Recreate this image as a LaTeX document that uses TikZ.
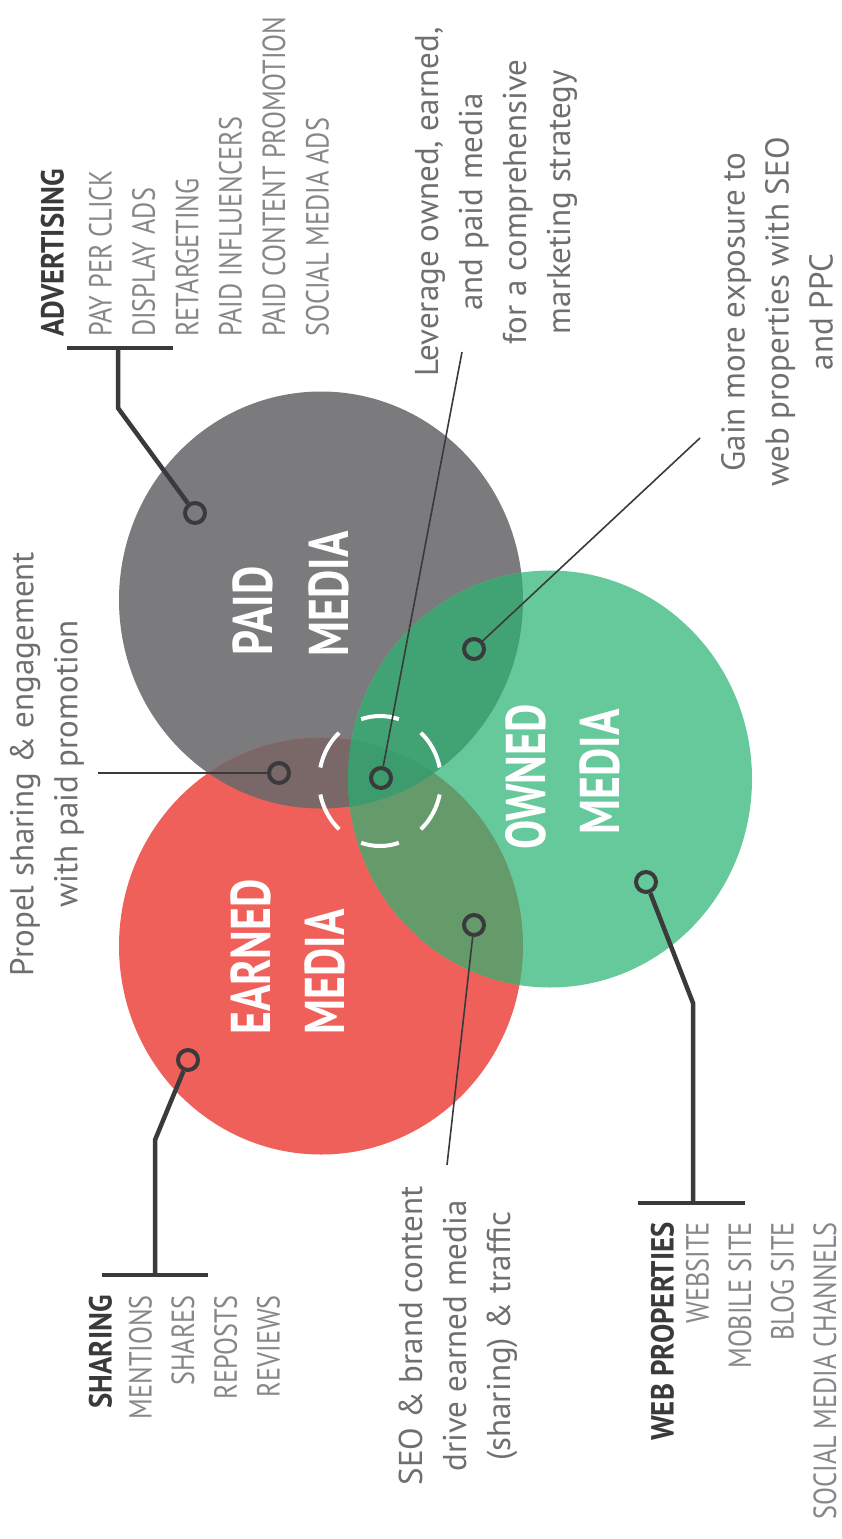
\documentclass[tikz,border=0pt]{standalone}
\usepackage{fontspec}
\setmainfont{PT Sans}
\newfontfamily\condfont[FakeStretch=0.82]{PT Sans}
\newfontfamily\headfont[FakeStretch=0.9]{PT Sans}
\newfontfamily\bigcondfont[FakeStretch=0.78]{PT Sans}

\definecolor{paidgray}{HTML}{7B7B7D}
\definecolor{earnedred}{HTML}{F0605A}
\definecolor{ownedgreen}{HTML}{66C99B}
\definecolor{pegray}{HTML}{7A6767}
\definecolor{pogreen}{HTML}{41A374}
\definecolor{eogreen}{HTML}{659A6B}
\definecolor{allgreen}{HTML}{3D9C6D}
\definecolor{inkdark}{HTML}{3A3A3C}
\definecolor{notegray}{HTML}{6F6F71}
\definecolor{itemgray}{HTML}{87878A}

\tikzset{
  dot/.style={circle,draw=inkdark,line width=4pt,minimum size=20pt,inner sep=0pt},
  thinlink/.style={draw=inkdark,line width=1.6pt},
  thicklink/.style={draw=inkdark,line width=4.5pt},
  note/.style={rotate=90,align=center,inner sep=0pt,text=notegray,
    font=\fontsize{33}{44}\selectfont},
  heading/.style={rotate=90,inner sep=0pt,text height=23pt,text depth=0pt,
    text=inkdark,font=\headfont\bfseries\fontsize{32}{40}\selectfont},
  item/.style={rotate=90,inner sep=0pt,text height=23pt,text depth=0pt,
    text=itemgray,font=\condfont\fontsize{32}{40}\selectfont},
  medialabel/.style={rotate=90,inner sep=0pt,text height=40pt,text depth=0pt,
    text=white,font=\bigcondfont\bfseries\fontsize{56}{60}\selectfont}
}

\begin{document}
\begin{tikzpicture}[x=1pt,y=-1pt]
    \useasboundingbox (0,0) rectangle (842,1539);
    \def\rx{202}
    \def\ry{208.5}
    \coordinate (paidC) at (321,600);
    \coordinate (earnedC) at (321,946);
    \coordinate (ownedC) at (550,779);
    %% the three media
    \fill[paidgray] (paidC) ellipse [x radius=\rx, y radius=\ry];
    \fill[earnedred] (earnedC) ellipse [x radius=\rx, y radius=\ry];
    \fill[ownedgreen] (ownedC) ellipse [x radius=\rx, y radius=\ry];
    %% overlaps
    \begin{scope}
        \clip (earnedC) ellipse [x radius=\rx, y radius=\ry];
        \fill[eogreen] (ownedC) ellipse [x radius=\rx, y radius=\ry];
    \end{scope}
    \begin{scope}
        \clip (paidC) ellipse [x radius=\rx, y radius=\ry];
        \fill[pegray] (earnedC) ellipse [x radius=\rx, y radius=\ry];
        \fill[pogreen] (ownedC) ellipse [x radius=\rx, y radius=\ry];
        \clip (earnedC) ellipse [x radius=\rx, y radius=\ry];
        \fill[allgreen] (ownedC) ellipse [x radius=\rx, y radius=\ry];
    \end{scope}
    %% dashed ring in the middle
    \coordinate (ringC) at (380,781);
    \foreach \a in {90,30,...,-210}
        \draw[white,line width=4pt] (ringC) ++(\a-18:61 and 65)
            arc [start angle=\a-18, end angle=\a+18, x radius=61, y radius=65];
    %% circle titles
    \node[medialabel] (paidA) at (252,611) {PAID};
    \node[medialabel] (paidB) at (328,594) {MEDIA};
    \node[medialabel] (earnedA) at (250,957) {EARNED};
    \node[medialabel] (earnedB) at (324,972) {MEDIA};
    \node[medialabel] (ownedA) at (525,777) {OWNED};
    \node[medialabel] (ownedB) at (599,772) {MEDIA};
    %% dots
    \node[dot] (paidDot) at (195,513) {};
    \node[dot] (earnedDot) at (188,1060) {};
    \node[dot] (ownedDot) at (646,882) {};
    \node[dot] (peDot) at (279,773) {};
    \node[dot] (poDot) at (474,649) {};
    \node[dot] (eoDot) at (474,925) {};
    \node[dot] (coreDot) at (381,778) {};
    %% notes
    \node[note] (leverageNote) at (496,202)
        {Leverage owned, earned,\\ and paid media\\ for a comprehensive\\ marketing strategy};
    \node[note] (gainNote) at (777,312)
        {Gain more exposure to\\ web properties with SEO\\ and PPC};
    \node[note] (propelNote) at (47,764)
        {Propel sharing \& engagement\\ with paid promotion};
    \node[note] (seoNote) at (458,1336)
        {SEO \& brand content\\ drive earned media\\ (sharing) \& traffic};
    \coordinate (leverageEnd) at (462,352);
    \coordinate (gainEnd) at (700,438);
    \coordinate (propelEnd) at (98,773);
    \coordinate (seoEnd) at (447,1165);
    \draw[thinlink] (coreDot) -- (leverageEnd);
    \draw[thinlink] (poDot) -- (gainEnd);
    \draw[thinlink] (peDot) -- (propelEnd);
    \draw[thinlink] (eoDot) -- (seoEnd);
    %% Advertising
    \node[heading,anchor=west] (advHead) at (52,337) {ADVERTISING};
    \foreach \t [count=\i] in {PAY PER CLICK,DISPLAY ADS,RETARGETING,
        PAID INFLUENCERS,PAID CONTENT PROMOTION,SOCIAL MEDIA ADS}
        \node[item,anchor=west] (adv\i) at (100+43.4*\i-43.4,337) {\t};
    \coordinate (advBarA) at (67,348);
    \coordinate (advBarB) at (173,348);
    \coordinate (advStem) at (118,348);
    \coordinate (advBend) at (118,408);
    \draw[thicklink] (advBarA) -- (advBarB);
    \draw[thicklink,line join=round] (advStem) -- (advBend) -- (paidDot);
    %% Sharing
    \node[heading,anchor=east] (shareHead) at (100,1295) {SHARING};
    \foreach \t [count=\i] in {MENTIONS,SHARES,REPOSTS,REVIEWS}
        \node[item,anchor=east] (share\i) at (140+42.7*\i-42.7,1295) {\t};
    \coordinate (shareBarA) at (102,1275);
    \coordinate (shareBarB) at (208,1275);
    \coordinate (shareStem) at (155,1275);
    \coordinate (shareBend) at (155,1140);
    \draw[thicklink] (shareBarA) -- (shareBarB);
    \draw[thicklink,line join=round] (shareStem) -- (shareBend) -- (earnedDot);
    %% Web properties
    \node[heading,anchor=east] (webHead) at (662,1222) {WEB PROPERTIES};
    \foreach \t [count=\i] in {WEBSITE,MOBILE SITE,BLOG SITE,SOCIAL MEDIA CHANNELS}
        \node[item,anchor=east] (web\i) at (697+42.5*\i-42.5,1222) {\t};
    \coordinate (webBarA) at (638,1203);
    \coordinate (webBarB) at (745,1203);
    \coordinate (webStem) at (693,1203);
    \coordinate (webBend) at (693,1003);
    \draw[thicklink] (webBarA) -- (webBarB);
    \draw[thicklink,line join=round] (webStem) -- (webBend) -- (ownedDot);
\end{tikzpicture}
\end{document}
